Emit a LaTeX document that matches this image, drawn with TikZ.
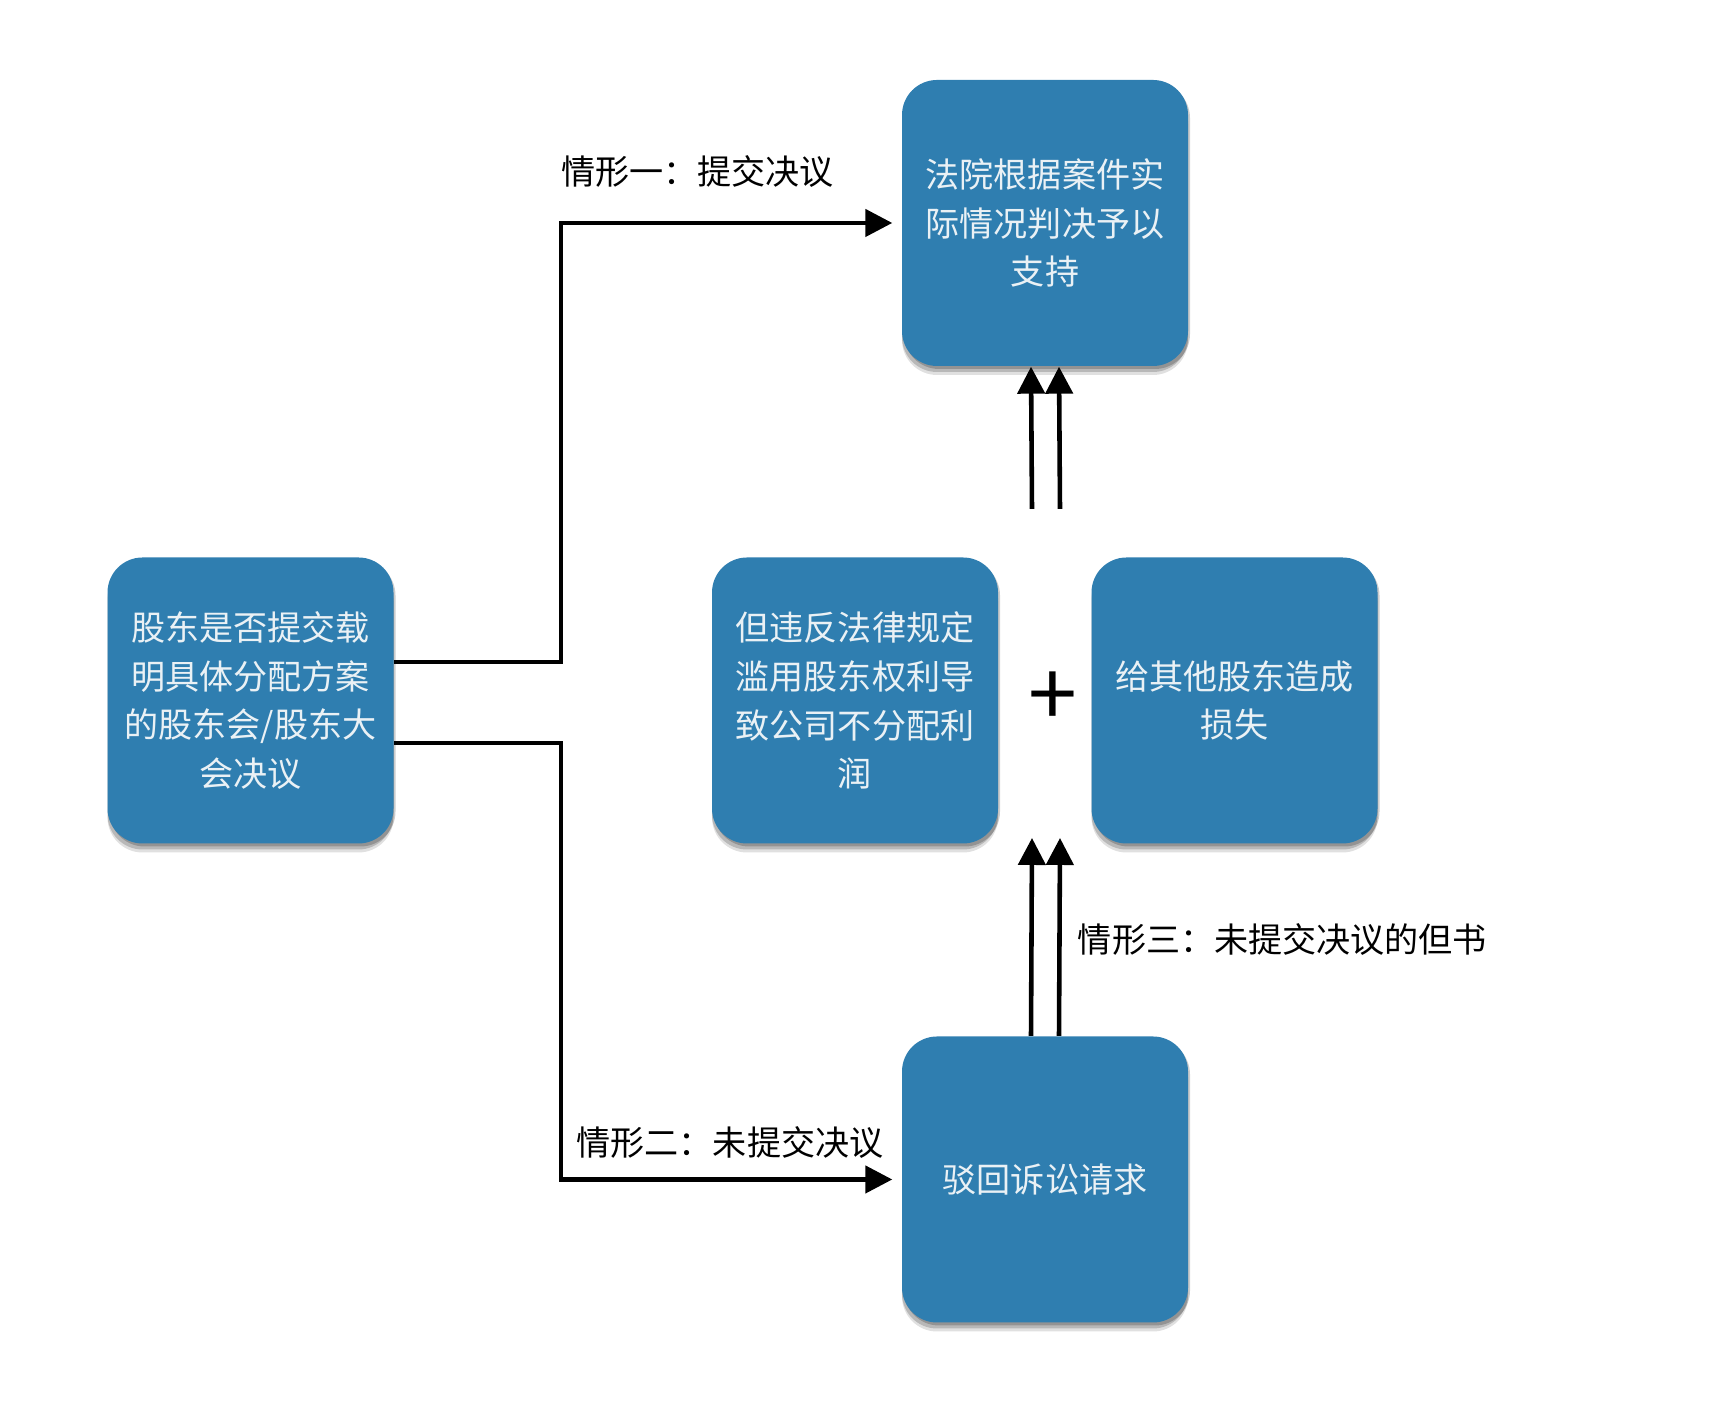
\documentclass[tikz,border=0pt]{standalone}
\usepackage{fontspec}
\setmainfont{Noto Sans CJK SC}
\usepackage{tikz}
\usetikzlibrary{arrows.meta, positioning, shadows}
\definecolor{boxblue}{HTML}{2F7EB0}
\definecolor{boxtext}{HTML}{EAF1F5}

\begin{document}
\begin{tikzpicture}[x=1cm, y=1cm,
    every node/.style={font=\fontsize{9.7}{13.9}\selectfont},
    casebox/.style={fill=boxblue, rounded corners=3.5mm, minimum width=2.86cm,
      minimum height=2.86cm, align=center, text=boxtext, inner sep=0pt,
      general shadow={shadow yshift=-0.9mm, opacity=0.12, fill=black},
      general shadow={shadow yshift=-0.6mm, opacity=0.18, fill=black},
      general shadow={shadow yshift=-0.3mm, shadow xshift=0.2mm, opacity=0.2, fill=black}},
    arr/.style={-{Triangle[length=2.7mm, width=2.7mm]}, line width=1.3pt},
    caselabel/.style={text=black}]
  \useasboundingbox (0,0) rectangle (17.29,14.24);

  \node[casebox] (top)   at (10.45, 12.01) {法院根据案件实\\际情况判决予以\\支持};
  \node[casebox] (left)  at (2.505, 7.235) {股东是否提交载\\明具体分配方案\\的股东会/股东大\\会决议};
  \node[casebox] (mid)   at (8.55, 7.235)  {但违反法律规定\\滥用股东权利导\\致公司不分配利\\润};
  \node[casebox] (right) at (12.345, 7.235) {给其他股东造成\\损失};
  \node[casebox] (bot)   at (10.45, 2.445) {驳回诉讼请求};
  \node (plus) at (10.53, 7.25) {\fontsize{25}{25}\selectfont +};

  \coordinate (plusup)   at (10.46, 9.15);
  \coordinate (plusdown) at (10.46, 5.86);

  \draw[arr, shorten >=0.9mm] ([yshift=3.85mm]left.east) -- ++(1.67,0) |- (top.west);
  \draw[arr, shorten >=0.9mm] ([yshift=-4.25mm]left.east) -- ++(1.67,0) |- (bot.west);
  \foreach \dx in {-1.4mm, 1.4mm}
  {
    \draw[arr] ([xshift=\dx]plusup) -- ([xshift=\dx]top.south);
    \draw[arr] ([xshift=\dx]bot.north) -- ([xshift=\dx]plusdown);
  }

  \node[caselabel] (case1) at (6.975, 12.52) {情形一：提交决议};
  \node[caselabel] (case2) at (7.30, 2.81)   {情形二：未提交决议};
  \node[caselabel] (case3) at (12.825, 4.84) {情形三：未提交决议的但书};
\end{tikzpicture}
\end{document}
